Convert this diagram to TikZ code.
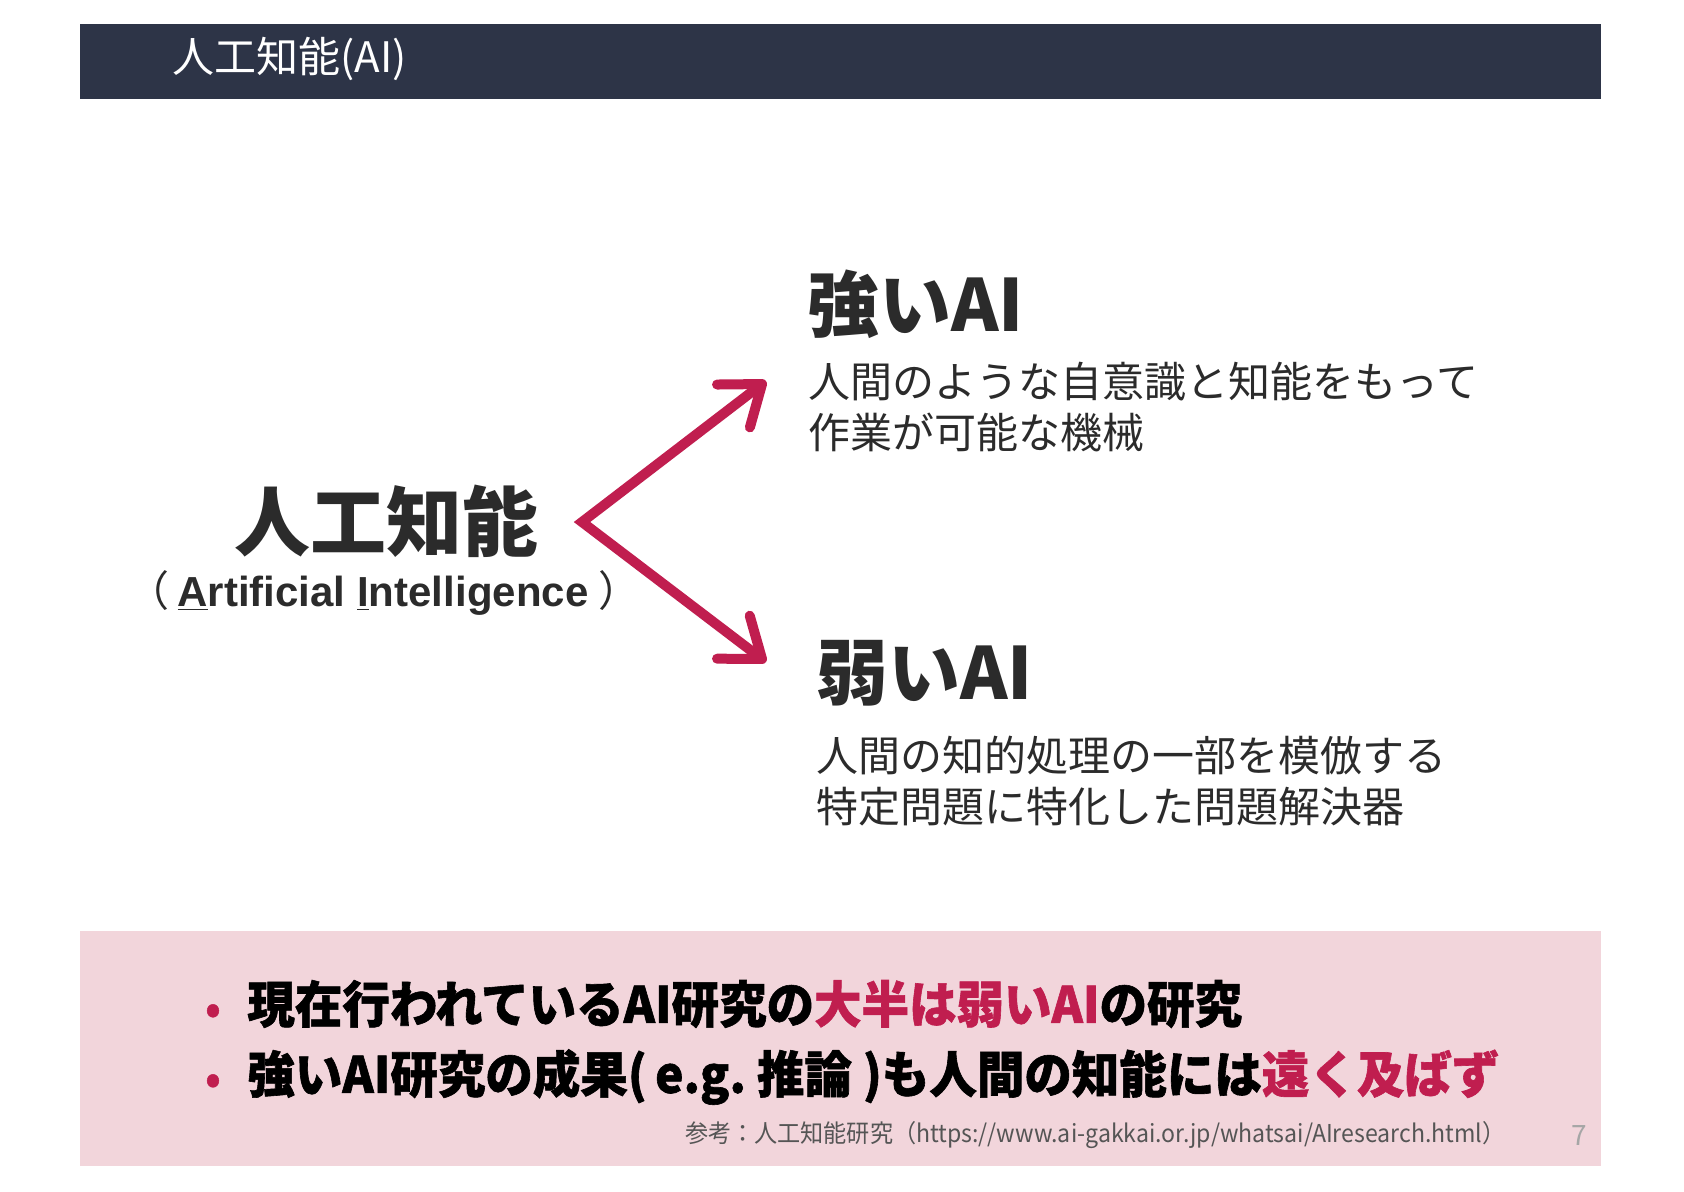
\documentclass[tikz,border=0pt]{standalone}
\usepackage{fontspec}
\setmainfont{Noto Sans CJK JP}
\newfontfamily\arialfont{Liberation Sans}
\newfontfamily\jpheavy{Noto Sans CJK JP}[BoldFeatures={FakeBold=1.2,FakeStretch=0.95}]
\newfontfamily\jpnarrow{Noto Sans CJK JP}[FakeStretch=0.94]
\usetikzlibrary{arrows.meta}

\definecolor{navybar}{HTML}{2D3447}
\definecolor{pinkbox}{HTML}{F2D5DB}
\definecolor{crimson}{HTML}{C01E4F}
\definecolor{inkdark}{HTML}{2B2B2B}
\definecolor{notegray}{HTML}{555555}
\definecolor{pagegray}{HTML}{A6A6A6}

\begin{document}
\begin{tikzpicture}[x=0.5pt,y=-0.5pt,
  headline/.style={font=\fontsize{36}{40}\selectfont\bfseries, text=inkdark, anchor=west, inner sep=0pt},
  desc/.style={font=\fontsize{21}{25.5}\selectfont, text=inkdark, anchor=west, align=left, inner sep=0pt},
  bulletline/.style={font=\jpheavy\fontsize{25}{30}\selectfont\bfseries, text=black, anchor=west, inner sep=0pt},
  forkarrow/.style={line width=5pt, draw=crimson, line cap=round, line join=miter,
    {Straight Barb[length=18pt,width=27pt,line cap=round,line join=round]}-{Straight Barb[length=18pt,width=27pt,line cap=round,line join=round]}}]
        \useasboundingbox (0,0) rectangle (1684,1191);

        % we draw the header bar and the pink summary box
        \fill[navybar] (80,24) rectangle (1601,99);
        \fill[pinkbox] (80,931) rectangle (1601,1166);
        \node[text=white, font=\fontsize{21}{25}\selectfont, anchor=west, inner sep=0pt] (title) at (172,59) {人工知能(AI)};

        % we place the main term on the left
        \node[font=\fontsize{38}{44}\selectfont\bfseries, text=inkdark, inner sep=0pt] (ai) at (386,521) {人工知能};
        \node[font=\fontsize{21}{25}\selectfont, text=inkdark, inner sep=0pt] (aien) at (384,593)
            {（\hspace{4pt}{\arialfont\bfseries\underline{A}rtificial \underline{I}ntelligence}\hspace{5pt}）};

        % we add the two kinds of AI on the right
        \node[headline] (strong) at (807,304) {強いAI};
        \node[desc] (strongdesc) at (808,407) {人間のような自意識と知能をもって\\作業が可能な機械};
        \node[headline] (weak) at (816,673) {弱いAI};
        \node[desc] (weakdesc) at (816,781) {人間の知的処理の一部を模倣する\\特定問題に特化した問題解決器};

        % we draw the fork arrow
        \coordinate (fork) at (582,522);
        \coordinate (strongtip) at (766,381);
        \coordinate (weaktip) at (766,662);
        \draw[forkarrow] (strongtip) -- (fork) -- (weaktip);

        % we add the summary bullets
        \node[bulletline] (pointa) at (205,1004)
            {\makebox[21pt][l]{\textcolor{crimson}{\fontsize{20}{20}\selectfont •}}現在行われているAI研究の\textcolor{crimson}{大半は弱いAI}の研究};
        \node[bulletline] (pointb) at (205,1077)
            {\makebox[21pt][l]{\textcolor{crimson}{\fontsize{20}{20}\selectfont •}}強いAI研究の成果(\,e.g.\ 推論\ )も人間の知能には\textcolor{crimson}{遠く及ばず}};

        \node[font=\jpnarrow\fontsize{12.3}{15}\selectfont, text=notegray, anchor=east, inner sep=0pt] (source) at (1506,1135)
            {参考：人工知能研究（https://www.ai-gakkai.or.jp/whatsai/AIresearch.html）};
        \node[font=\fontsize{14}{16}\selectfont, text=pagegray, inner sep=0pt] (page) at (1579,1135) {7};
    \end{tikzpicture}
\end{document}
